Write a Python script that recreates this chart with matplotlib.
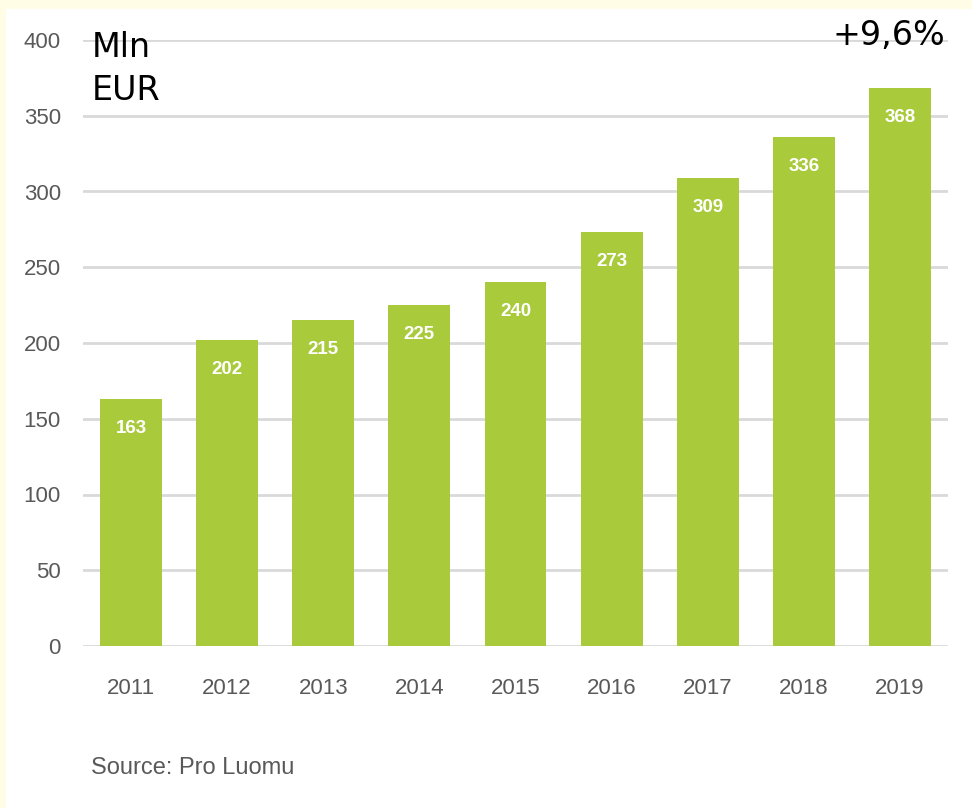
import matplotlib
matplotlib.use("Agg")
import matplotlib.pyplot as plt
from matplotlib.patches import Rectangle

years = ["2011", "2012", "2013", "2014", "2015", "2016", "2017", "2018", "2019"]
values = [163, 202, 215, 225, 240, 273, 309, 336, 368]
yticks = [0, 50, 100, 150, 200, 250, 300, 350, 400]

font = "Liberation Sans"
bar_color = "#a9ca3b"
grey = "#595959"

fig = plt.figure(figsize=(9.72, 8.08), dpi=100)
fig.patch.set_facecolor("#fffde6")
# white panel inside the yellow border
fig.add_artist(Rectangle((6 / 972, 0), 1, 1 - 9 / 808, transform=fig.transFigure,
                         facecolor="white", edgecolor="none", zorder=-5))

ax = fig.add_axes([83 / 972, 1 - 646 / 808, (948 - 83) / 972, (646 - 40) / 808])
ax.patch.set_alpha(0)
x = range(len(years))
ax.bar(x, values, width=0.645, color=bar_color, zorder=3)

for xi, v in zip(x, values):
    ax.annotate(str(v), (xi, v), xytext=(0, -21), textcoords="offset points",
                ha="center", va="center", color="white", fontsize=13.5,
                fontweight="bold", family=font, zorder=4)

ax.set_xlim(-0.5, len(years) - 0.5)
ax.set_ylim(0, 400)
ax.set_yticks(yticks)
ax.set_xticks(list(x))
ax.set_xticklabels(years)
ax.yaxis.grid(True, color="#d9d9d9", linewidth=2, zorder=0)
ax.set_axisbelow(True)
for s in ax.spines.values():
    s.set_visible(False)
ax.tick_params(length=0, labelsize=16, labelcolor=grey)
ax.tick_params(axis="x", pad=23)
ax.tick_params(axis="y", pad=16)
for lab in ax.get_xticklabels() + ax.get_yticklabels():
    lab.set_family(font)

fig.text(92 / 972, 1 - 57 / 808, "Mln", fontsize=24, family="DejaVu Sans",
         color="black", ha="left", va="baseline")
fig.text(92 / 972, 1 - 100 / 808, "EUR", fontsize=24, family="DejaVu Sans",
         color="black", ha="left", va="baseline")
fig.text(945 / 972, 1 - 45 / 808, "+9,6%", fontsize=24, family="DejaVu Sans",
         color="black", ha="right", va="baseline")
fig.text(91 / 972, 1 - 774 / 808, "Source: Pro Luomu", fontsize=17, family=font,
         color=grey, ha="left", va="baseline")

fig.savefig("out.png", dpi=100, facecolor=fig.get_facecolor())
